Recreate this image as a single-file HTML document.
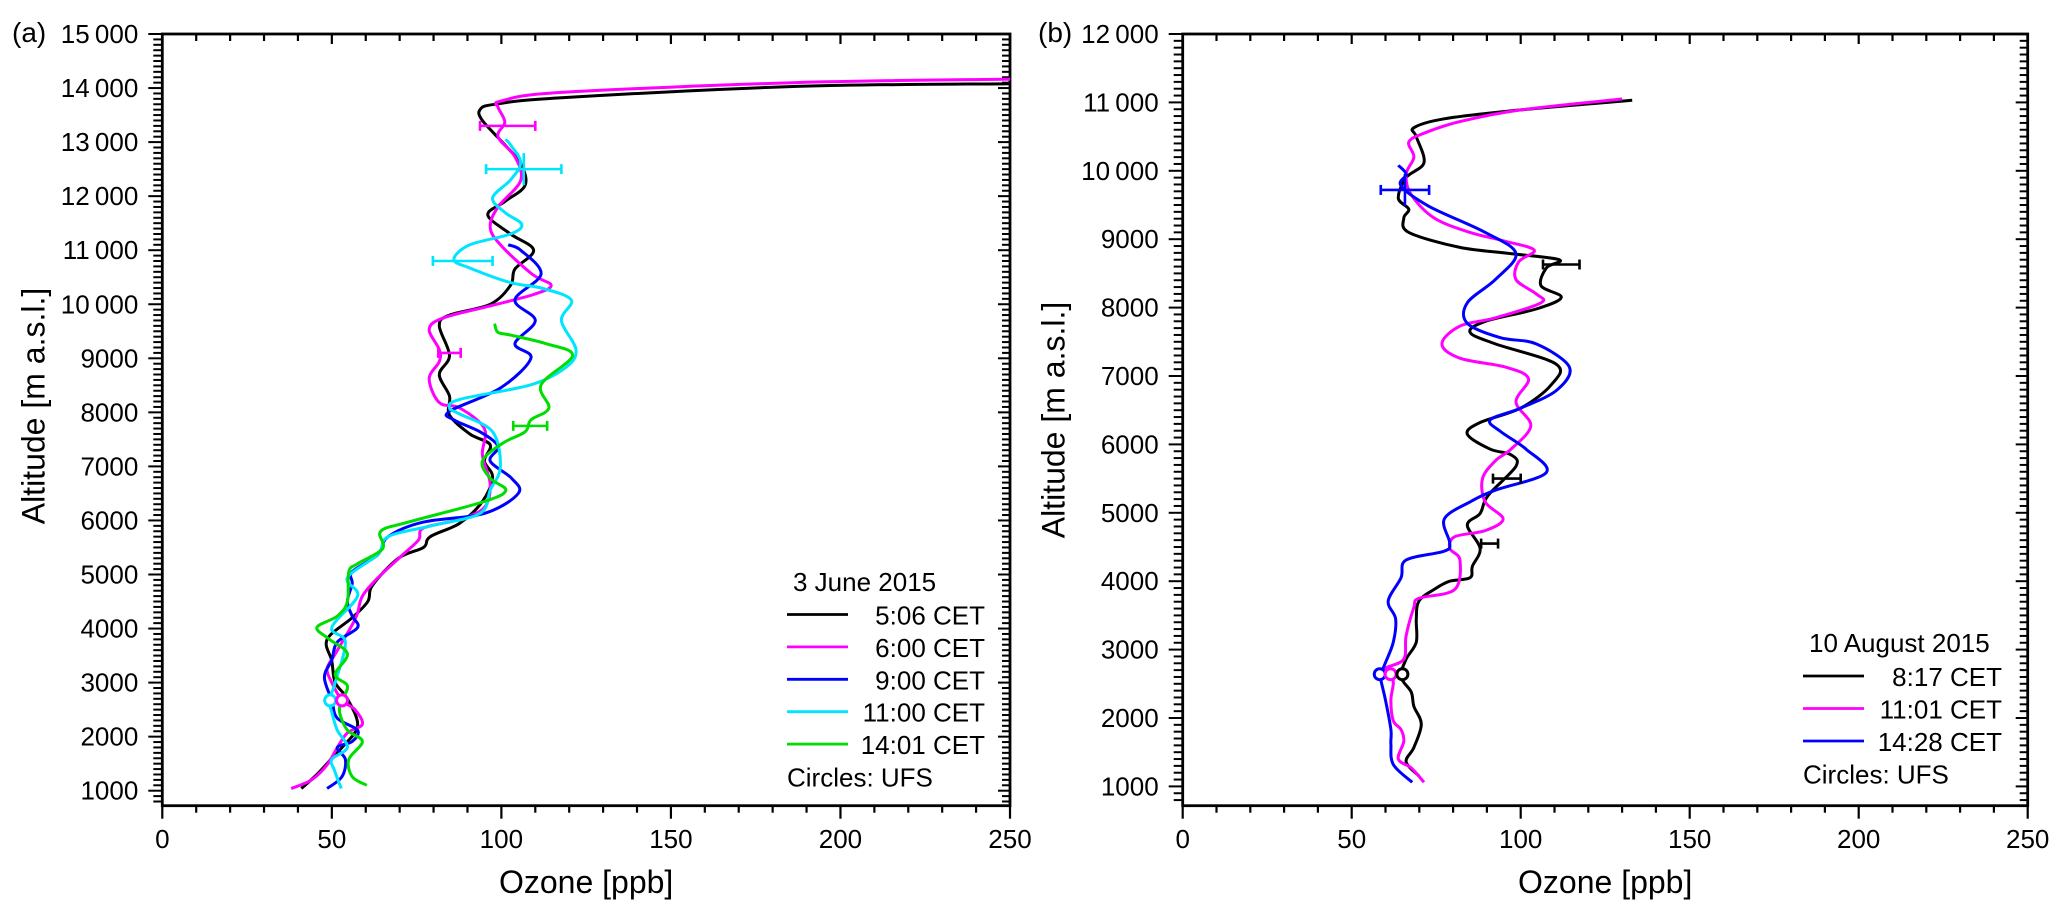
<!DOCTYPE html>
<html><head><meta charset="utf-8">
<style>
html,body{margin:0;padding:0;background:#fff;}
svg{display:block;font-family:"Liberation Sans",Arial,sans-serif;}
</style></head>
<body>
<svg id="chart" width="2067" height="916" viewBox="0 0 2067 916" xmlns="http://www.w3.org/2000/svg">
<g id="pa"></g>
<g id="pb"></g>
</svg>
<script>
// ---------- Panel (a) data: 3 June 2015 ----------
const a_black_ppb = [41,45.6,50,53,57.6,54.6,51,50,48.6,56,60.6,62,69.6,77,79,87.7,94.4,97.4,95,96.7,90.7,84.7,84.7,81.7,84.7,81.7,84.7,96.7,102.7,104,109.5,102.7,96,101,107,105.7,101,94.4,93.7,98,117.7,187,250];
const a_black_alt = [1040,1300,1600,1800,2200,2700,3000,3400,3800,4200,4500,4800,5300,5500,5700,5950,6350,6800,7100,7400,7600,7950,8300,8700,9050,9600,9800,10000,10350,10650,11000,11300,11650,11900,12200,12600,12950,13400,13600,13700,13820,14030,14080];
const a_pink_ppb = [38,44,48.6,51.6,54.6,59,56.8,53,50,48.6,51,56,57.6,59,63.6,71,75.6,77,87.7,95,96.7,94.4,95,87.7,81.7,78.7,81.7,81.7,78.7,83,96.7,109.5,114.7,109,99.7,96.7,99,105.7,104,99,101,99,100,117.7,187,250];
const a_pink_alt = [1040,1200,1480,1800,2070,2230,2500,2670,3000,3260,3530,4070,4290,4600,4940,5370,5640,5860,6020,6240,6670,7210,7700,8080,8180,8620,8940,9160,9540,9750,9970,10180,10350,10560,11100,11430,11800,12290,12730,13100,13370,13650,13760,13920,14100,14165];
const a_blue_ppb = [48.6,53,54,51.6,56,57.6,51.6,50,47.8,50,51.6,57.6,56,54.6,56,56,63.6,66.6,77,95,105,103,96.7,99,93.7,86,84.7,99.7,108.7,104,110,104,111.7,105.7,102];
const a_blue_alt = [1040,1260,1580,1800,1910,2120,2340,2670,3100,3420,3750,4020,4230,4500,4830,5050,5370,5700,5970,6130,6500,6780,7100,7370,7640,7860,8020,8450,9000,9270,9700,10080,10560,11000,11100];
const a_cyan_ppb = [52.8,50.8,50,54.6,51.6,50,49.3,51,54,50,57.6,54.6,63.6,66.6,80,93.7,96.7,99.7,97.4,87.7,84.7,87.7,108.7,119,122,117.7,120.6,111.7,102.7,90.7,86,90.7,102.7,106,101,97.4,102.7,105.7,102.7,101.2];
const a_cyan_alt = [1040,1370,1580,1800,2120,2450,2670,3000,3750,4020,4600,4940,5370,5700,5910,6130,6560,6990,7640,7970,8080,8240,8510,8830,9160,9700,10080,10300,10400,10670,10830,11100,11300,11480,11700,11970,12300,12620,12950,13050];
const a_green_ppb = [60.3,56,55,59,54.6,52.3,53,54.6,51,54.6,49.3,45.6,51.6,54.6,55,57.6,65,64.4,72.6,95,101.3,96.7,94.4,100.4,107,108.7,114,111.7,121,113.2,102.7,99,98];
const a_green_alt = [1100,1260,1580,1910,2120,2450,2670,2940,3150,3530,3800,4020,4230,4500,5050,5200,5480,5800,5970,6350,6560,6780,7100,7430,7640,7860,8080,8510,9050,9270,9430,9480,9640];
const a_err_col = ['#ff00ff','#00e5ff','#00e5ff','#ff00ff','#00dd00'];
const a_err_alt = [13300,12500,10800,9100,7750];
const a_err_lo = [93.7,95.5,79.8,81.4,103.5];
const a_err_hi = [110,117.7,97.4,88,113.5];
const a_err_cross = [false,true,false,false,false];
const a_circ_col = ['#00e5ff','#ff00ff'];
const a_circ_ppb = [49.5,53];
const a_circ_alt = [2670,2670];

// ---------- Panel (b) data: 10 August 2015 ----------
const b_black_ppb = [69.9,66.1,68.4,70.6,68.4,67.6,64.6,66.1,69.1,69.1,69.9,74.4,79,85,85.7,88,84.2,88,90.3,98.6,97.1,91,84.2,88,100,109,110.6,92.5,85,89.6,104.6,112,106,107.6,111.4,97,82,66.9,65.4,66.9,63.8,66.1,71.4,69.1,68.4,77.4,100,133];
const b_black_alt = [1150,1360,1570,1910,2170,2380,2600,2860,3110,3450,3710,3880,4000,4050,4220,4480,4820,4990,5250,5680,5850,5930,6150,6320,6530,6870,7170,7470,7640,7800,7980,8150,8320,8580,8700,8790,8880,9100,9310,9440,9600,9900,10120,10500,10630,10760,10890,11030];
const b_pink_ppb = [71.4,67.6,63.8,65.4,64.6,62.3,61.6,62.3,61.6,60,65.4,66.1,68.4,69.9,80.5,82,79,80.5,89.5,94.8,89.5,88.7,92.5,97.1,103,98.6,102.3,95.5,82,76.7,82,92.5,106,104.6,98.6,99.4,104,95.5,85,74.4,67.6,66.1,68.4,66.9,71.4,82,100,130];
const b_pink_alt = [1060,1270,1400,1660,1830,1960,2260,2510,2680,2730,2860,3200,3620,3750,3880,4310,4480,4650,4740,4910,5160,5500,5760,5930,6270,6620,6960,7130,7260,7470,7730,7850,8070,8200,8410,8670,8840,8970,9100,9310,9650,9950,10200,10420,10550,10720,10890,11050];
const b_blue_ppb = [67.9,62.3,61.6,61.6,60,58.6,58.6,60,62.3,63,60.8,64.6,66.1,77.4,79,77.4,85,92.5,107.6,101.6,94,91,100,110.6,114.4,104.6,94,84.2,84.2,92.5,98.6,89.5,72.9,64.6,66.1,63.8];
const b_blue_alt = [1060,1320,1620,1830,2260,2560,2640,2810,3110,3450,3710,4050,4310,4440,4560,4910,5160,5330,5590,5930,6190,6360,6530,6790,7130,7470,7560,7770,8070,8410,8790,9100,9480,9780,9950,10080];
const b_err_col = ['#0000ff','#000000','#000000','#000000'];
const b_err_alt = [9720,8630,5500,4550];
const b_err_lo = [58.6,106.6,91.8,88.3];
const b_err_hi = [72.9,117.4,100,93.3];
const b_err_cross = [true,false,false,false];
const b_circ_col = ['#0000ff','#ff00ff','#000000'];
const b_circ_ppb = [58.3,61.5,65];
const b_circ_alt = [2640,2640,2640];

const NS = 'http://www.w3.org/2000/svg';
function el(parent, tag, attrs, text) {
  const e = document.createElementNS(NS, tag);
  for (const k in attrs) e.setAttribute(k, attrs[k]);
  if (text !== undefined) e.textContent = text;
  parent.appendChild(e);
  return e;
}
function smoothPath(pts) {
  let d = 'M' + pts[0][0].toFixed(1) + ',' + pts[0][1].toFixed(1);
  for (let i = 0; i < pts.length - 1; i++) {
    const p0 = pts[i - 1] || pts[i], p1 = pts[i], p2 = pts[i + 1], p3 = pts[i + 2] || p2;
    const c1x = p1[0] + (p2[0] - p0[0]) / 6, c1y = p1[1] + (p2[1] - p0[1]) / 6;
    const c2x = p2[0] - (p3[0] - p1[0]) / 6, c2y = p2[1] - (p3[1] - p1[1]) / 6;
    d += ' C' + c1x.toFixed(1) + ',' + c1y.toFixed(1) + ' ' + c2x.toFixed(1) + ',' + c2y.toFixed(1) + ' ' + p2[0].toFixed(1) + ',' + p2[1].toFixed(1);
  }
  return d;
}

function panel(g, cfg) {
  const X0 = cfg.x0, X1 = cfg.x1, Y0 = 34, YB = 805.7;
  const xs = v => X0 + (v / 250) * (X1 - X0);
  const ys = a => cfg.yTop + (cfg.altMax - a) / 1000 * cfg.per1000;
  const ax = el(g, 'g', {});
  
  
  el(ax, 'rect', {x: X0, y: Y0, width: X1 - X0, height: YB - Y0, fill: 'none', stroke: '#000', 'stroke-width': 2.8});
  for (let v = 0; v <= 250; v += 10) {
    const major = v % 50 === 0, x = xs(v);
    el(ax, 'line', {x1: x, y1: YB, x2: x, y2: YB + (major ? 13 : 7), stroke: '#000', 'stroke-width': 2.2});
    el(ax, 'line', {x1: x, y1: Y0, x2: x, y2: Y0 + (major ? 10 : 7), stroke: '#000', 'stroke-width': 2.2});
    if (major) {
      const t = el(ax, 'text', {x: x, y: 848, 'font-size': 26, 'text-anchor': 'middle'}, String(v));
      
      
    }
  }
  for (let a = 700; a <= cfg.altMax; a += 100) {
    const y = ys(a);
    if (y > YB + 0.5) continue;
    const major = a % 1000 === 0;
    el(ax, 'line', {x1: X0, y1: y, x2: X0 - (major ? 14 : 9), y2: y, stroke: '#000', 'stroke-width': 2});
    el(ax, 'line', {x1: X1, y1: y, x2: X1 - (major ? 12 : 8), y2: y, stroke: '#000', 'stroke-width': 2});
    if (major && a >= 1000) {
      const s = a >= 10000 ? String(Math.floor(a / 1000)) + '\u2009' + '000' : String(a);
      const t = el(ax, 'text', {x: X0 - 24, y: y + 9, 'font-size': 26, 'text-anchor': 'end'}, s);
      
      
    }
  }
  const xt = el(g, 'text', {x: (X0 + X1) / 2, y: 893, 'font-size': 32, 'text-anchor': 'middle'}, 'Ozone [ppb]');
  
  
  const yt = el(g, 'text', {x: 0, y: 0, 'font-size': 32, 'text-anchor': 'middle', transform: 'translate(' + (X0 - 118) + ',' + cfg.ytY + ') rotate(-90)'}, 'Altitude [m a.s.l.]');
  
  
  const pl = el(g, 'text', {x: cfg.labelX, y: 42, 'font-size': 28}, cfg.label);
  
  

  const clip = el(g, 'clipPath', {id: 'clip' + cfg.id});
  el(clip, 'rect', {x: X0, y: Y0, width: X1 - X0, height: YB - Y0});
  const sg = el(g, 'g', {'clip-path': 'url(#clip' + cfg.id + ')'});
  cfg.series.forEach(s => {
    const pts = s.ppb.map((v, i) => [xs(v), ys(s.alt[i])]);
    const p = el(sg, 'path', {d: smoothPath(pts), fill: 'none', stroke: s.color, 'stroke-width': 3, 'stroke-linejoin': 'round'});
    
    
  });
  cfg.err.alt.forEach((a, i) => {
    const y = ys(a), c = cfg.err.col[i], x1 = xs(cfg.err.lo[i]), x2 = xs(cfg.err.hi[i]);
    const eg = el(sg, 'g', {stroke: c, 'stroke-width': 2.6});
    
    
    el(eg, 'line', {x1: x1, y1: y, x2: x2, y2: y});
    el(eg, 'line', {x1: x1, y1: y - 5, x2: x1, y2: y + 5});
    el(eg, 'line', {x1: x2, y1: y - 5, x2: x2, y2: y + 5});
    if (cfg.err.cross[i]) { const xm = (x1 + x2) / 2; el(eg, 'line', {x1: xm, y1: y - 16, x2: xm, y2: y + 16}); }
  });
  cfg.circ.ppb.forEach((v, i) => {
    const c = el(sg, 'circle', {cx: xs(v), cy: ys(cfg.circ.alt[i]), r: 5.5, fill: '#fff', stroke: cfg.circ.col[i], 'stroke-width': 3});
    
    
  });
  const lg = el(g, 'g', {});
  
  
  const L = cfg.legend;
  el(lg, 'text', {x: L.x, y: L.titleY, 'font-size': 26}, L.title);
  L.entries.forEach((e, i) => {
    const y = L.firstY + i * L.step;
    const eg = el(lg, 'g', {});
    
    
    el(eg, 'line', {x1: L.x - 6, y1: y, x2: L.x + 55, y2: y, stroke: e.color, 'stroke-width': 2.8});
    el(eg, 'text', {x: L.textEnd, y: y + 10, 'font-size': 26, 'text-anchor': 'end'}, e.label);
  });
  el(lg, 'text', {x: L.x - 6, y: L.firstY + L.entries.length * L.step + 10, 'font-size': 26}, 'Circles: UFS');
}

panel(document.getElementById('pa'), {
  id: 'a', x0: 162.3, x1: 1010, yTop: 34, altMax: 15000, per1000: 54.05, ytY: 406, label: '(a)', labelX: 12,
  series: [
    {name: '5-06', color: '#000000', ppb: a_black_ppb, alt: a_black_alt},
    {name: '6-00', color: '#ff00ff', ppb: a_pink_ppb, alt: a_pink_alt},
    {name: '9-00', color: '#0000ff', ppb: a_blue_ppb, alt: a_blue_alt},
    {name: '11-00', color: '#00e5ff', ppb: a_cyan_ppb, alt: a_cyan_alt},
    {name: '14-01', color: '#00dd00', ppb: a_green_ppb, alt: a_green_alt}
  ],
  err: {col: a_err_col, alt: a_err_alt, lo: a_err_lo, hi: a_err_hi, cross: a_err_cross},
  circ: {col: a_circ_col, ppb: a_circ_ppb, alt: a_circ_alt},
  legend: {x: 793, titleY: 591, title: '3 June 2015', firstY: 614.5, step: 32.4, textEnd: 985,
    entries: [{label: '5:06 CET', color: '#000'}, {label: '6:00 CET', color: '#ff00ff'}, {label: '9:00 CET', color: '#0000ff'}, {label: '11:00 CET', color: '#00e5ff'}, {label: '14:01 CET', color: '#00dd00'}]}
});
panel(document.getElementById('pb'), {
  id: 'b', x0: 1182.7, x1: 2027.7, yTop: 34, altMax: 12000, per1000: 68.4, ytY: 420, label: '(b)', labelX: 1038,
  series: [
    {name: '8-17', color: '#000000', ppb: b_black_ppb, alt: b_black_alt},
    {name: '11-01', color: '#ff00ff', ppb: b_pink_ppb, alt: b_pink_alt},
    {name: '14-28', color: '#0000ff', ppb: b_blue_ppb, alt: b_blue_alt}
  ],
  err: {col: b_err_col, alt: b_err_alt, lo: b_err_lo, hi: b_err_hi, cross: b_err_cross},
  circ: {col: b_circ_col, ppb: b_circ_ppb, alt: b_circ_alt},
  legend: {x: 1809, titleY: 652, title: '10  August  2015', firstY: 676, step: 32.5, textEnd: 2002,
    entries: [{label: '8:17 CET', color: '#000'}, {label: '11:01 CET', color: '#ff00ff'}, {label: '14:28 CET', color: '#0000ff'}]}
});
</script>
</body></html>
